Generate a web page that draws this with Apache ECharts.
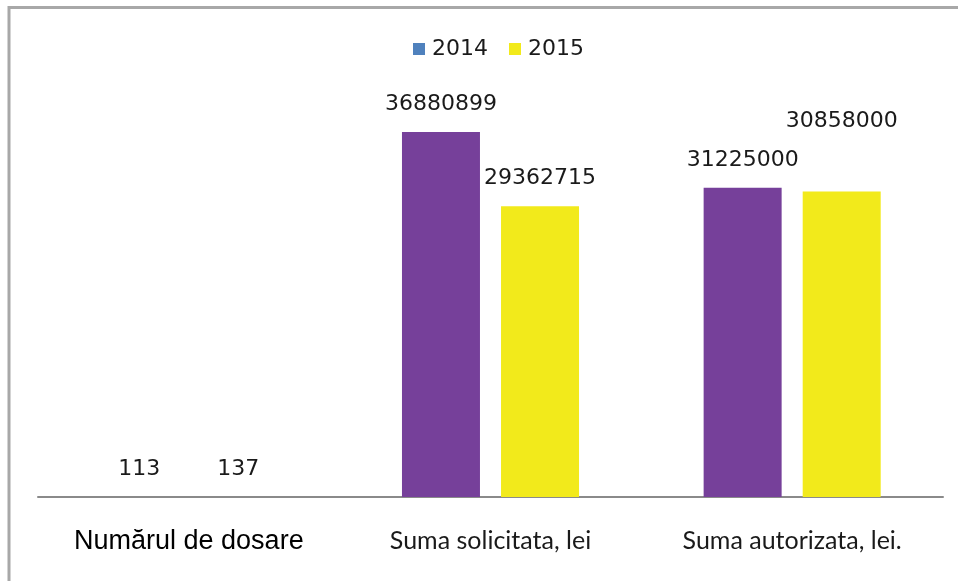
<!DOCTYPE html>
<html>
<head>
<meta charset="utf-8">
<script src="https://cdn.jsdelivr.net/npm/echarts@6/dist/echarts.min.js"></script>
<style>
html,body{margin:0;padding:0;background:#fff;}
#c{width:958px;height:581px;}
</style>
</head>
<body>
<div id="c"></div>
<script>
const categories = ['Numărul de dosare', 'Suma solicitata, lei', 'Suma autorizata, lei.'];
const seriesNames = ['2014', '2015'];
const values2014 = [113, 36880899, 31225000];
const values2015 = [137, 29362715, 30858000];
const yMax = 40000000;

const purple = '#76409A';
const yellow = '#F2EA1B';
const legendBlue = '#4F81BD';

const chart = echarts.init(document.getElementById('c'));
const labelFont = {fontFamily: 'DejaVu Sans', fontSize: 22, color: '#1a1a1a'};

const data2015 = values2015.map((v, i) => i === 2 ? {value: v, label: {offset: [0, -42]}} : v);

chart.setOption({
  animation: false,
  backgroundColor: '#fff',
  graphic: [{
    type: 'rect',
    shape: {x: 9, y: 7.5, width: 1100, height: 1100},
    style: {fill: 'none', stroke: '#a8a8a8', lineWidth: 3},
    silent: true
  }],
  legend: {
    top: 33,
    left: 408,
    itemWidth: 12,
    itemHeight: 12,
    itemGap: 21,
    icon: 'rect',
    textStyle: {fontFamily: 'DejaVu Sans', fontSize: 22, color: '#1a1a1a', padding: [0, 0, 0, 2]},
    data: [
      {name: seriesNames[0], itemStyle: {color: legendBlue}},
      {name: seriesNames[1], itemStyle: {color: yellow}}
    ]
  },
  grid: {left: 38, right: 15, top: 101, bottom: 84, containLabel: false},
  xAxis: {
    type: 'category',
    data: categories,
    axisLine: {lineStyle: {color: '#8a8a8a', width: 2}},
    axisTick: {show: false},
    axisLabel: {
      margin: 31,
      interval: 0,
      formatter: (v, i) => i === 0 ? '{a|' + v + '}' : '{b|' + v + '}',
      rich: {
        a: {fontFamily: 'Liberation Sans', fontSize: 27, color: '#000'},
        b: {fontFamily: 'Lato', fontSize: 25, color: '#1a1a1a'}
      }
    }
  },
  yAxis: {
    type: 'value',
    min: 0,
    max: yMax,
    show: false,
    splitLine: {show: false}
  },
  series: [
    {
      name: seriesNames[0],
      type: 'bar',
      data: values2014,
      barWidth: 78,
      barGap: '27%',
      itemStyle: {color: purple},
      label: Object.assign({show: true, position: 'top', distance: 17}, labelFont)
    },
    {
      name: seriesNames[1],
      type: 'bar',
      data: data2015,
      barWidth: 78,
      barGap: '27%',
      itemStyle: {color: yellow},
      label: Object.assign({show: true, position: 'top', distance: 17}, labelFont)
    }
  ]
});
</script>
</body>
</html>
